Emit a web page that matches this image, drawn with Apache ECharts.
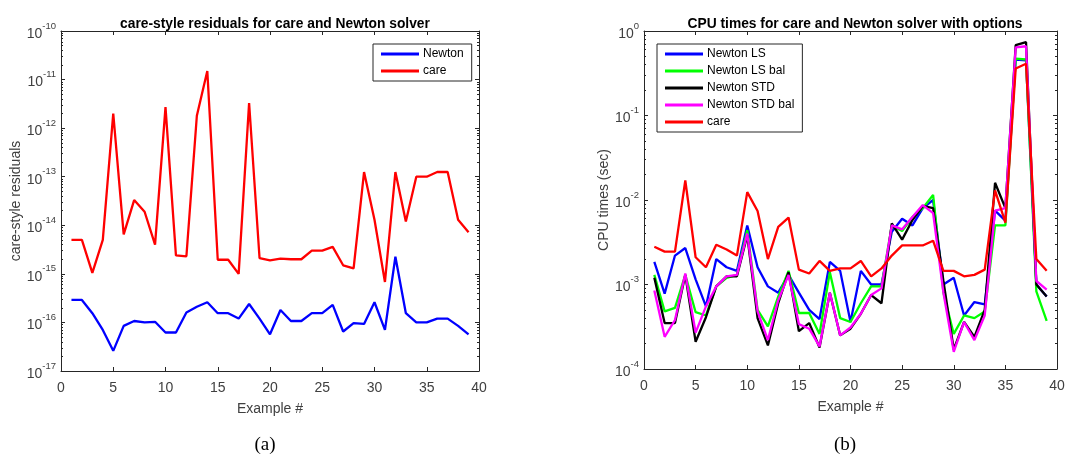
<!DOCTYPE html>
<html>
<head>
  <meta charset="utf-8">
</head>
<body style="margin: 0">
  <div id="container" style="width: 1085px; height: 454px"></div>
  <script src="https://cdn.jsdelivr.net/npm/echarts@6/dist/echarts.min.js"></script>
  <script>
var examples = [1, 2, 3, 4, 5, 6, 7, 8, 9, 10, 11, 12, 13, 14, 15, 16, 17, 18, 19, 20,
  21, 22, 23, 24, 25, 26, 27, 28, 29, 30, 31, 32, 33, 34, 35, 36, 37, 38, 39];

// (a) residuals
var residNewton = [2.9e-16, 2.9e-16, 1.55e-16, 7e-17, 2.6e-17, 8.5e-17, 1.07e-16, 1e-16, 1.03e-16, 6.2e-17,
  6.2e-17, 1.6e-16, 2.1e-16, 2.6e-16, 1.55e-16, 1.55e-16, 1.2e-16, 2.4e-16, 1.2e-16, 5.7e-17,
  1.8e-16, 1.07e-16, 1.07e-16, 1.55e-16, 1.55e-16, 2.3e-16, 6.5e-17, 9.7e-17, 9.3e-17, 2.6e-16,
  7e-17, 2.25e-15, 1.55e-16, 1e-16, 1e-16, 1.2e-16, 1.2e-16, 8.5e-17, 5.7e-17];
var residCare = [5e-15, 5e-15, 1.05e-15, 5e-15, 2e-12, 6.5e-15, 3.3e-14, 1.9e-14, 4e-15, 2.7e-12,
  2.4e-15, 2.3e-15, 1.8e-12, 1.5e-11, 1.95e-15, 1.95e-15, 1e-15, 3.3e-12, 2.1e-15, 1.9e-15,
  2.05e-15, 2e-15, 2e-15, 3e-15, 3e-15, 3.6e-15, 1.5e-15, 1.3e-15, 1.25e-13, 1.3e-14,
  6.8e-16, 1.25e-13, 1.2e-14, 1e-13, 1e-13, 1.25e-13, 1.25e-13, 1.3e-14, 7.2e-15];

// (b) CPU times
var cpuNewtonLS = [1.85e-3, 7.8e-4, 2.2e-3, 2.7e-3, 1.15e-3, 5.5e-4, 2.0e-3, 1.6e-3, 1.45e-3, 5.0e-3,
  1.6e-3, 9.5e-4, 8e-4, 1.3e-3, 8e-4, 5e-4, 3.9e-4, 1.85e-3, 1.45e-3, 3.6e-4,
  1.45e-3, 1.0e-3, 1.0e-3, 4.2e-3, 6.0e-3, 5e-3, 8e-3, 1e-2, 1e-3, 1.2e-3,
  4.3e-4, 6.2e-4, 5.8e-4, 7.5e-3, 5.7e-3, 0.46, 0.45, 1e-3, 7.2e-4];
var cpuNewtonLSbal = [1.3e-3, 4.8e-4, 5.3e-4, 1.3e-3, 4.7e-4, 4.3e-4, 9.5e-4, 1.2e-3, 1.3e-3, 4.4e-3,
  5e-4, 3.2e-4, 7.2e-4, 1.45e-3, 4.6e-4, 4.6e-4, 2.6e-4, 1.4e-3, 4e-4, 3.6e-4,
  6e-4, 9.5e-4, 9.5e-4, 5e-3, 4.3e-3, 6.3e-3, 8e-3, 1.15e-2, 8e-4, 2.6e-4,
  4.3e-4, 4e-4, 4.8e-4, 5e-3, 5e-3, 0.47, 0.46, 8.3e-4, 3.7e-4];
var cpuNewtonSTD = [1.2e-3, 3.5e-4, 3.5e-4, 1.3e-3, 2.1e-4, 4.1e-4, 9.5e-4, 1.25e-3, 1.25e-3, 3.8e-3,
  4e-4, 1.9e-4, 6e-4, 1.4e-3, 2.8e-4, 3.5e-4, 1.8e-4, 8e-4, 2.5e-4, 3e-4,
  4.5e-4, 7.5e-4, 6e-4, 5.3e-3, 3.4e-3, 5.8e-3, 8.5e-3, 8e-3, 1.1e-3, 1.7e-4,
  3.6e-4, 2.4e-4, 5e-4, 1.6e-2, 8e-3, 0.68, 0.74, 1e-3, 7.2e-4];
var cpuNewtonSTDbal = [8.5e-4, 2.4e-4, 3.8e-4, 1.35e-3, 2.7e-4, 5.5e-4, 9.5e-4, 1.25e-3, 1.3e-3, 4e-3,
  4.8e-4, 2.2e-4, 6.5e-4, 1.3e-3, 3.4e-4, 3e-4, 1.85e-4, 8e-4, 2.5e-4, 3.1e-4,
  4.5e-4, 7.5e-4, 9e-4, 5e-3, 4.5e-3, 6.3e-3, 8.7e-3, 7e-3, 8e-4, 1.6e-4,
  3.6e-4, 2.2e-4, 4.3e-4, 7.5e-3, 8e-3, 0.64, 0.66, 1.1e-3, 8.7e-4];
var cpuCare = [2.8e-3, 2.45e-3, 2.45e-3, 1.7e-2, 2.1e-3, 1.6e-3, 2.95e-3, 2.6e-3, 2.2e-3, 1.24e-2,
  7.4e-3, 2.0e-3, 4.8e-3, 6.2e-3, 1.5e-3, 1.35e-3, 1.9e-3, 1.45e-3, 1.55e-3, 1.55e-3,
  1.9e-3, 1.25e-3, 1.55e-3, 2.2e-3, 2.9e-3, 2.9e-3, 2.9e-3, 3.3e-3, 1.45e-3, 1.45e-3,
  1.25e-3, 1.3e-3, 1.5e-3, 1.3e-2, 5.4e-3, 0.36, 0.41, 2.0e-3, 1.45e-3];

var legendA = ['Newton', 'care'];
var legendB = ['Newton LS', 'Newton LS bal', 'Newton STD', 'Newton STD bal', 'care'];

var dom = document.getElementById('container');
var myChart = echarts.init(dom, null, { renderer: 'canvas' });

var axisColor = '#262626';
var font = 'Liberation Sans, Arial, sans-serif';

function pairs(vals) {
  return vals.map(function (v, i) { return [examples[i], v]; });
}

function line(name, vals, color, xi, yi) {
  return {
    name: name, type: 'line', xAxisIndex: xi, yAxisIndex: yi,
    data: pairs(vals), showSymbol: false, symbol: 'none',
    lineStyle: { color: color, width: 2.3 }, itemStyle: { color: color },
    emphasis: { disabled: true }, animation: false
  };
}

function powLabel(v) {
  var e = Math.round(Math.log10(v));
  return '{b|10}{s|' + e + '}';
}

function xAxis(grid, top) {
  return {
    type: 'value', gridIndex: grid, min: 0, max: 40, interval: 5,
    position: top ? 'top' : 'bottom',
    name: top ? '' : 'Example #', nameLocation: 'middle', nameGap: 31,
    nameTextStyle: { color: '#404040', fontSize: 14, fontFamily: font },
    axisLine: { show: true, onZero: false, lineStyle: { color: axisColor, width: 1 } },
    axisTick: { show: true, inside: true, length: 4, lineStyle: { color: axisColor } },
    axisLabel: { show: !top, color: '#404040', fontSize: 14, fontFamily: font, margin: 10 },
    splitLine: { show: false }
  };
}

function yAxis(grid, min, max, name, right, gap) {
  return {
    type: 'log', logBase: 10, gridIndex: grid, min: min, max: max,
    position: right ? 'right' : 'left',
    name: right ? '' : name, nameLocation: 'middle', nameGap: gap,
    nameTextStyle: { color: '#404040', fontSize: 14, fontFamily: font },
    axisLine: { show: true, onZero: false, lineStyle: { color: axisColor, width: 1 } },
    axisTick: { show: true, inside: true, length: 4, lineStyle: { color: axisColor } },
    minorTick: { show: true, splitNumber: 9, length: 2, lineStyle: { color: axisColor } },
    axisLabel: {
      show: !right, formatter: powLabel, margin: 5,
      rich: {
        b: { fontSize: 14, color: '#404040', fontFamily: font, lineHeight: 20, verticalAlign: 'bottom' },
        s: { fontSize: 9.5, color: '#404040', fontFamily: font, lineHeight: 20, verticalAlign: 'top' }
      }
    },
    splitLine: { show: false }
  };
}

var legendBase = {
  orient: 'vertical', icon: 'rect', itemWidth: 38, itemHeight: 3, itemGap: 5,
  borderColor: '#262626', borderWidth: 1, padding: [4, 8, 4, 8],
  backgroundColor: '#fff', selectedMode: false,
  textStyle: { color: '#000', fontSize: 12, fontFamily: font, padding: [0, 0, 0, -1] }
};

var titleStyle = { fontSize: 13.8, fontWeight: 'bold', color: '#000', fontFamily: font };
var captionStyle = { fontSize: 19, fontWeight: 'normal', color: '#000', fontFamily: 'Liberation Serif, serif' };

var option = {
  backgroundColor: '#fff',
  animation: false,
  title: [
    { text: 'care-style residuals for care and Newton solver', left: 270, top: 12, textAlign: 'center', textStyle: titleStyle },
    { text: 'CPU times for care and Newton solver with options', left: 850, top: 12, textAlign: 'center', textStyle: titleStyle },
    { text: '(a)', left: 260, top: 431, textAlign: 'center', textStyle: captionStyle },
    { text: '(b)', left: 840, top: 431, textAlign: 'center', textStyle: captionStyle }
  ],
  legend: [
    Object.assign({}, legendBase, { data: legendA, left: 373, top: 44 }),
    Object.assign({}, legendBase, { data: legendB, left: 657, top: 44 })
  ],
  grid: [
    { left: 61, right: 606, top: 31, bottom: 83 },
    { left: 644, right: 28, top: 31, bottom: 85 }
  ],
  xAxis: [xAxis(0, false), xAxis(0, true), xAxis(1, false), xAxis(1, true)],
  yAxis: [
    yAxis(0, 1e-17, 1e-10, 'care-style residuals', false, 38),
    yAxis(0, 1e-17, 1e-10, '', true, 0),
    yAxis(1, 1e-4, 1, 'CPU times (sec)', false, 33),
    yAxis(1, 1e-4, 1, '', true, 0)
  ],
  series: [
    line('Newton', residNewton, '#0000ff', 0, 0),
    line('care', residCare, '#ff0000', 0, 0),
    line('Newton LS', cpuNewtonLS, '#0000ff', 2, 2),
    line('Newton LS bal', cpuNewtonLSbal, '#00ff00', 2, 2),
    line('Newton STD', cpuNewtonSTD, '#000000', 2, 2),
    line('Newton STD bal', cpuNewtonSTDbal, '#ff00ff', 2, 2),
    line('care', cpuCare, '#ff0000', 2, 2)
  ]
};

myChart.setOption(option);
window.addEventListener('resize', myChart.resize);
  </script>
</body>
</html>
